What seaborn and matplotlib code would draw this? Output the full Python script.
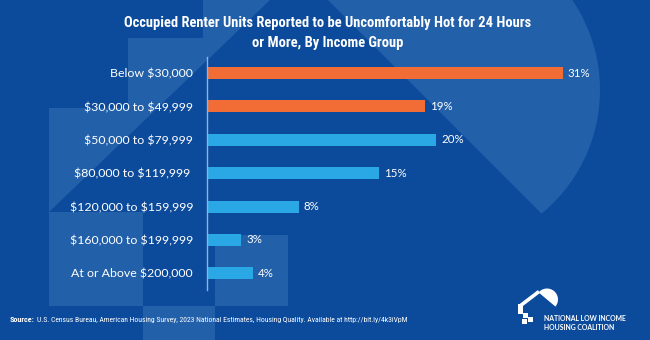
import numpy as np
import pandas as pd
import matplotlib
matplotlib.use("Agg")
import matplotlib.pyplot as plt
from matplotlib.patches import Polygon, Rectangle, Wedge
import seaborn as sns

# Share of occupied renter units reported uncomfortably hot for 24+ hours
categories = [
    "Below $30,000",
    "$30,000 to $49,999",
    "$50,000 to $79,999",
    "$80,000 to $119,999 ",
    "$120,000 to $159,999",
    "$160,000 to $199,999",
    "At or Above $200,000",
]
shares = [31, 19, 20, 15, 8, 3, 4]
groups = ["low", "low", "other", "other", "other", "other", "other"]

title_lines = ["Occupied Renter Units Reported to be Uncomfortably Hot for 24 Hours",
               "or More, By Income Group"]
source_head = "Source:"
source_body = ("U.S. Census Bureau, American Housing Survey, 2023 National Estimates, "
               "Housing Quality. Available at http://bit.ly/4k3iVpM")
org_lines = ["NATIONAL LOW INCOME", "HOUSING COALITION"]

BG = "#0c4b9c"
BG_LIGHT = "#2260a9"
ORANGE = "#f26d36"
SKY = "#2aa8e6"
LABEL_FONT = ["Lato", "DejaVu Sans"]
NARROW = ["Noto Sans Condensed", "Roboto Condensed", "Open Sans Condensed",
          "Liberation Sans Narrow", "Roboto", "DejaVu Sans"]

sns.set_theme(style="white")
plt.rcParams["font.family"] = LABEL_FONT
plt.rcParams["text.parse_math"] = False

df = pd.DataFrame({"income": categories, "share": shares, "group": groups})

W, H = 650, 340
fig = plt.figure(figsize=(6.5, 3.4), dpi=100, facecolor=BG)
renderer = fig.canvas.get_renderer()


def fy(py):
    return 1 - py / H


def fit_width(txt, target_px):
    """Scale a text's font size so its rendered width matches target_px."""
    w = txt.get_window_extent(renderer).width
    txt.set_fontsize(txt.get_fontsize() * target_px / w)


# Backdrop: faint oversized house emblem drawn in pixel space
bg = fig.add_axes([0, 0, 1, 1], zorder=0)
bg.set_xlim(0, W)
bg.set_ylim(H, 0)
bg.axis("off")
bg.add_patch(Polygon([(203, 0), (270, 0), (49, 212), (49, 108), (128, 108),
                      (128, 38), (203, 38)], closed=True, fc=BG_LIGHT, ec="none"))
bg.add_patch(Rectangle((49, 212), 94, 94, fc=BG_LIGHT, ec="none"))
bg.add_patch(Rectangle((143, 306), 72, 40, fc=BG_LIGHT, ec="none"))
bg.add_patch(Rectangle((215, 235), 73, 71, fc=BG_LIGHT, ec="none"))
theta = np.radians(np.linspace(-140.6, 50.6, 120))
arc = np.column_stack([440 + 160 * np.cos(theta), 90 + 160 * np.sin(theta)])
bg.add_patch(Polygon(arc, closed=True, fc=BG_LIGHT, ec="none"))

# Small organisation emblem, lower right
bg.add_patch(Wedge((547, 299.5), 11, -140, 40, fc="white", ec="none"))
bg.plot([520, 539], [306, 291.5], color="white", lw=2.6, solid_capstyle="butt")
for (sx, sy, s) in [(518, 304, 5), (518, 309, 5), (523, 313, 5),
                    (528, 317, 5), (522, 319, 4.5)]:
    bg.add_patch(Rectangle((sx, sy), s, s, fc="white", ec="none"))

# Main bar chart
ax = fig.add_axes([207 / W, 50 / H, 401.5 / W, 233 / H], zorder=1)
ax.set_facecolor("none")
sns.barplot(data=df, x="share", y="income", hue="group",
            palette={"low": ORANGE, "other": SKY}, dodge=False,
            width=0.36, legend=False, ax=ax, saturation=1, linewidth=0)
ax.set_xlim(0, 35)
ax.set_ylim(6.5, -0.48)
for cont in ax.containers:
    ax.bar_label(cont, fmt="{:g}%", padding=3.5, color="white",
                 fontsize=8.3, family=LABEL_FONT)
for s in ["top", "right", "bottom"]:
    ax.spines[s].set_visible(False)
ax.spines["left"].set_color("#8fb2de")
ax.spines["left"].set_linewidth(1.0)
ax.set_xticks([])
ax.set_xlabel("")
ax.set_ylabel("")
ax.tick_params(axis="y", length=0, pad=10, labelcolor="white", labelsize=8.9)

# Two-line title in a narrow bold face
t1 = fig.text(328 / W, fy(22.5), title_lines[0], ha="center", va="center",
              color="white", fontsize=10, fontweight="bold", family=NARROW)
fit_width(t1, 408)
fig.text(328 / W, fy(43), title_lines[1], ha="center", va="center",
         color="white", fontsize=t1.get_fontsize(), fontweight="bold",
         family=NARROW)

# Source line: bold lead-in followed by the citation
sh = fig.text(10 / W, fy(320), source_head, ha="left", va="center",
              color="white", fontsize=5.6, fontweight="bold", family=NARROW)
fit_width(sh, 25)
sb = fig.text(37 / W, fy(320), source_body, ha="left", va="center",
              color="white", fontsize=5.6, family=NARROW)
fit_width(sb, 370)
sb.set_fontsize(min(sb.get_fontsize(), sh.get_fontsize()))
x_end = sh.get_window_extent(renderer).x1
sb.set_x((x_end + 2.5) / W)

o1 = fig.text(544 / W, fy(318.5), org_lines[0], ha="left", va="center",
              color="white", fontsize=5, fontweight="bold", family=LABEL_FONT)
fit_width(o1, 84)
fig.text(544 / W, fy(327), org_lines[1], ha="left", va="center",
         color="white", fontsize=o1.get_fontsize(), fontweight="bold",
         family=LABEL_FONT)

fig.savefig("out.png", dpi=100, facecolor=BG)
